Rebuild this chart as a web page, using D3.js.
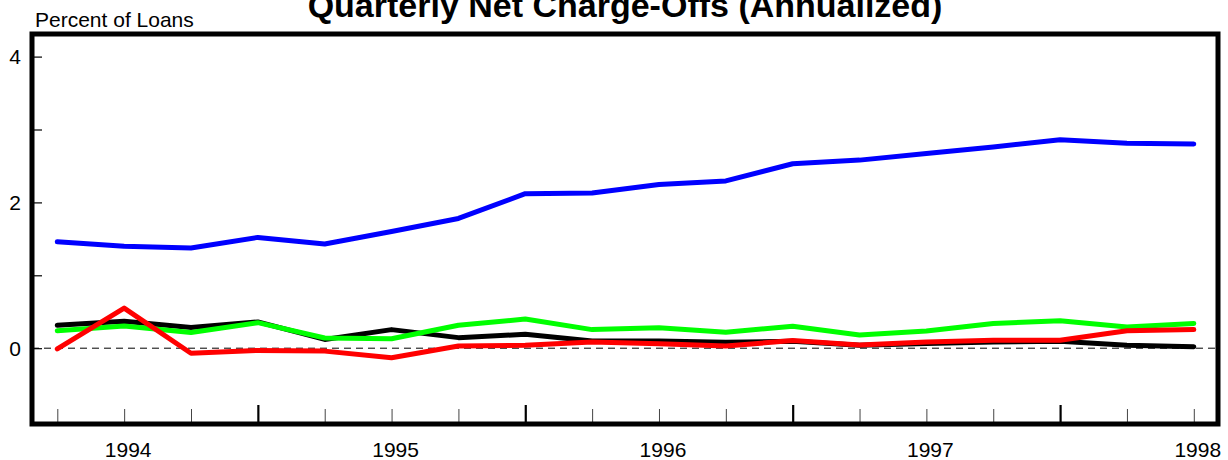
<!DOCTYPE html>
<html>
<head>
<meta charset="utf-8">
<script src="https://cdn.jsdelivr.net/npm/d3@7"></script>
<style>
  html, body { margin: 0; padding: 0; background: #fff; }
  svg { display: block; font-family: "Liberation Sans", Arial, Helvetica, sans-serif; }
</style>
</head>
<body>
<svg id="chart" width="1228" height="460"></svg>
<script>
// ---- data ----
const quarters = ["1993Q4","1994Q1","1994Q2","1994Q3","1994Q4","1995Q1","1995Q2","1995Q3","1995Q4",
                  "1996Q1","1996Q2","1996Q3","1996Q4","1997Q1","1997Q2","1997Q3","1997Q4","1998Q1"];
const seriesBlue  = [1.46, 1.40, 1.375, 1.52, 1.43, 1.60, 1.78, 2.12, 2.13, 2.245, 2.295, 2.53, 2.58, 2.67, 2.76, 2.86, 2.81, 2.80];
const seriesBlack = [0.315, 0.37, 0.285, 0.36, 0.12, 0.255, 0.145, 0.19, 0.10, 0.10, 0.08, 0.095, 0.04, 0.065, 0.085, 0.095, 0.04, 0.02];
const seriesGreen = [0.24, 0.305, 0.215, 0.35, 0.14, 0.13, 0.315, 0.40, 0.255, 0.28, 0.22, 0.30, 0.18, 0.235, 0.34, 0.375, 0.29, 0.34];
const seriesRed   = [-0.01, 0.55, -0.07, -0.03, -0.04, -0.13, 0.03, 0.04, 0.085, 0.06, 0.03, 0.105, 0.045, 0.085, 0.11, 0.11, 0.24, 0.255];
const yearLabels = ["1994", "1995", "1996", "1997", "1998"];
const yearLabelQuarter = ["1994Q1", "1995Q1", "1996Q1", "1997Q1", "1998Q1"];
const majorTickQuarters = ["1994Q3", "1995Q3", "1996Q3", "1997Q3"];
const yTicks = [0, 1, 2, 3, 4];
const yTickLabels = ["0", "", "2", "", "4"];
const titleText = "Quarterly Net Charge-Offs (Annualized)";
const yAxisTitle = "Percent of Loans";

// ---- layout ----
const svg = d3.select("#chart");
const frame = { left: 32, right: 1218, top: 34, bottom: 424 };

const x = d3.scalePoint().domain(quarters).range([57.3, 1193.8]);
const y = d3.scaleLinear().domain([-1, 4]).range([421.1, 56.6]);

// title (cut off at the top edge, as in the reference)
svg.append("text")
  .attr("x", (frame.left + frame.right) / 2).attr("y", 17)
  .attr("text-anchor", "middle")
  .attr("font-size", 34).attr("font-weight", "bold")
  .text(titleText);

svg.append("text")
  .attr("x", 35).attr("y", 27)
  .attr("font-size", 21)
  .text(yAxisTitle);

// zero dashed line
svg.append("line")
  .attr("x1", frame.left).attr("x2", frame.right)
  .attr("y1", y(0)).attr("y2", y(0))
  .attr("stroke", "#000").attr("stroke-width", 1)
  .attr("stroke-dasharray", "7,5");

// y axis ticks (inside the frame)
const yAxis = d3.axisRight(y).tickValues(yTicks).tickSize(10).tickFormat("");
const gy = svg.append("g").attr("transform", `translate(${frame.left},0)`).call(yAxis);
gy.select(".domain").remove();
gy.selectAll(".tick line").attr("stroke", "#000").attr("stroke-width", 1.2);

svg.append("g").selectAll("text")
  .data(yTicks)
  .join("text")
  .attr("x", 21).attr("y", d => y(d))
  .attr("dy", "0.36em")
  .attr("text-anchor", "end")
  .attr("font-size", 21)
  .text((d, i) => yTickLabels[i]);

// x axis ticks (minor: every quarter; major: mid-year)
const xAxis = d3.axisTop(x).tickSize(15).tickFormat("");
const gx = svg.append("g").attr("transform", `translate(0,${frame.bottom})`).call(xAxis);
gx.select(".domain").remove();
gx.selectAll(".tick line")
  .attr("stroke", d => majorTickQuarters.includes(d) ? "#000" : "#444")
  .attr("stroke-width", d => majorTickQuarters.includes(d) ? 2.2 : 1)
  .attr("y2", d => majorTickQuarters.includes(d) ? -19 : -15);

svg.append("g").selectAll("text")
  .data(yearLabels)
  .join("text")
  .attr("x", (d, i) => x(yearLabelQuarter[i]) + 4)
  .attr("y", 457)
  .attr("text-anchor", "middle")
  .attr("font-size", 21)
  .text(d => d);

// series lines
const line = d3.line().x((d, i) => x(quarters[i])).y(d => y(d));
const series = [
  { values: seriesBlack, color: "#000000" },
  { values: seriesGreen, color: "#00ff00" },
  { values: seriesRed,   color: "#ff0000" },
  { values: seriesBlue,  color: "#0000ff" }
];
svg.append("g").selectAll("path")
  .data(series)
  .join("path")
  .attr("d", d => line(d.values))
  .attr("fill", "none")
  .attr("stroke", d => d.color)
  .attr("stroke-width", 5)
  .attr("stroke-linejoin", "round")
  .attr("stroke-linecap", "round");

// frame
svg.append("rect")
  .attr("x", frame.left).attr("y", frame.top)
  .attr("width", frame.right - frame.left).attr("height", frame.bottom - frame.top)
  .attr("fill", "none").attr("stroke", "#000").attr("stroke-width", 5);
</script>
</body>
</html>
